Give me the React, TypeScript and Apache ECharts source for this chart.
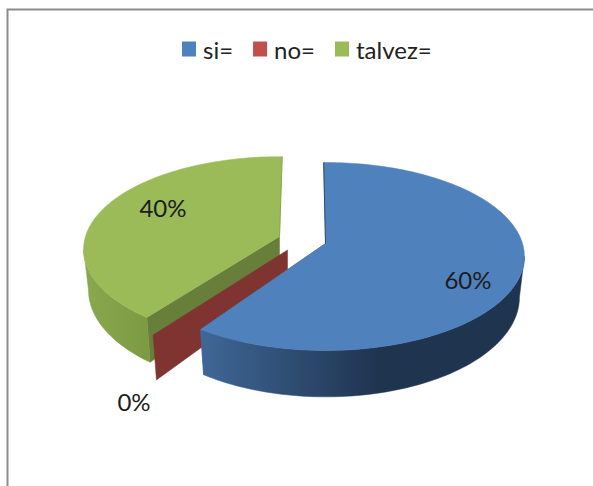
import React, { useEffect, useRef } from "react";
import * as echarts from "echarts";

const categories = ["si=", "no=", "talvez="];
const values = [60, 0, 40];
const percentLabels = ["60%", "0%", "40%"];
const topColors = ["#4f81bd", "#c0504d", "#9bbb59"];

// Drawing geometry of each exploded slice (not data)
const geometry = [
  { cx: 325.5, cy: 243.5, scale: 1, da: -0.6, db: -1.8, wall: ["#3f6797", "#1f344f"], cut: "#3a5f8c", backEdge: "#2c4a6e", z: 3, label: [468, 279.5] },
  { cx: 287.5, cy: 250, scale: 1.02, da: 0.5, db: 0.5, wall: ["#7f3432", "#7f3432"], cut: "#7f3432", backEdge: "", z: 2, label: [134, 401.5] },
  { cx: 279.5, cy: 236.5, scale: 0.985, da: 1.5, db: 0.9, wall: ["#8aa84e", "#7b9a42"], cut: "#687f3b", backEdge: "#8aa84e", z: 1, label: [163, 207.5] },
];

const R = 197;
const RY = 92.2;
const K = 0.138;
const DEPTH = 40;
const LOWER = 0.975;
const DEG = Math.PI / 180;
const SIDE = Math.acos(-K); // angle of the silhouette on the right; mirrored on the left

const total = values.reduce((a, b) => a + b, 0);

function project(g: any, theta: number, lower: boolean, rf = 1) {
  const w = 1 + K * Math.cos(theta);
  const s = lower ? LOWER : 1;
  const x = g.cx + (rf * g.scale * R * Math.sin(theta) * s) / w;
  const y = g.cy - (rf * g.scale * RY * Math.cos(theta)) / w + (lower ? DEPTH / w : 0);
  return [x, y];
}

function arc(g: any, a: number, b: number, lower: boolean) {
  const pts: number[][] = [];
  const n = Math.max(2, Math.ceil(Math.abs(b - a) * 40));
  for (let i = 0; i <= n; i++) pts.push(project(g, a + ((b - a) * i) / n, lower));
  return pts;
}

function renderSlice(index: number) {
  return (_params: any, api: any) => {
    const g = geometry[index];
    const val = api.value(0) as number;
    let before = 0;
    for (let i = 0; i < index; i++) before += values[i];
    const a = (before / total) * Math.PI * 2 + g.da * DEG;
    const b = ((before + val) / total) * Math.PI * 2 + g.db * DEG;
    const children: any[] = [];
    const apexTop = [g.cx, g.cy];
    const apexLow = project(g, 0, true, 0);
    const poly = (points: number[][], fill: any, stroke?: string) => ({
      type: "polygon",
      shape: { points },
      style: { fill, stroke: stroke ?? fill, lineWidth: 0.5 },
      silent: true,
    });

    // Cut wall that faces the viewer
    const facing = index === 0 ? b : a;
    children.push(
      poly([apexTop, project(g, facing, false), project(g, facing, true), apexLow], g.cut)
    );

    if (val > 0) {
      // Outer wall between the two silhouette angles
      const from = Math.max(a, SIDE);
      const to = Math.min(b, Math.PI * 2 - SIDE);
      const upper = arc(g, from, to, false);
      const bottom = arc(g, from, to, true).reverse();
      const fill =
        index === 0
          ? new echarts.graphic.LinearGradient(0, 0, 1, 0, [
              { offset: 0, color: g.wall[0] },
              { offset: 0.55, color: g.wall[1] },
              { offset: 1, color: g.wall[1] },
            ])
          : new echarts.graphic.LinearGradient(0, 0, 1, 0, [
              { offset: 0, color: g.wall[0] },
              { offset: 1, color: g.wall[1] },
            ]);
      children.push(poly(upper.concat(bottom), fill));
      // Top face
      children.push(poly([apexTop, ...arc(g, a, b, false)], topColors[index]));
      // Thin edge along the back cut
      const backTheta = index === 0 ? a : b;
      children.push({
        type: "polyline",
        silent: true,
        shape: { points: [project(g, backTheta, false), apexTop] },
        style: { stroke: g.backEdge, lineWidth: 1, fill: "none" },
      });
    }

    children.push({
      type: "text",
      silent: true,
      style: {
        x: g.label[0],
        y: g.label[1],
        text: percentLabels[index],
        fill: "#1c1c1c",
        font: "24px Lato",
        align: "center",
        verticalAlign: "middle",
      },
    });
    return { type: "group", children };
  };
}

export default function App() {
  const ref = useRef<HTMLDivElement>(null);
  useEffect(() => {
    const chart = echarts.init(ref.current!, undefined, { renderer: "svg" });
    chart.setOption({
      animation: false,
      backgroundColor: "#ffffff",
      legend: {
        data: categories,
        top: 32,
        left: 177,
        itemWidth: 14,
        itemHeight: 15,
        itemGap: 20,
        icon: "rect",
        textStyle: { fontFamily: "Lato", fontSize: 24, color: "#222", padding: [0, 0, 0, 2] },
      },
      series: categories.map((name, i) => ({
        type: "custom",
        name,
        coordinateSystem: "none",
        z: geometry[i].z,
        itemStyle: { color: topColors[i] },
        data: [[values[i]]],
        renderItem: renderSlice(i),
      })),
      graphic: [
        {
          type: "polyline",
          silent: true,
          shape: { points: [[7.5, 486], [7.5, 9.5], [593, 9.5]] },
          style: { stroke: "#8c8c8c", lineWidth: 2, fill: "none" },
        },
      ],
    });
    return () => chart.dispose();
  }, []);
  return <div ref={ref} style={{ position: "fixed", left: 0, top: 0, width: 593, height: 486 }} />;
}
